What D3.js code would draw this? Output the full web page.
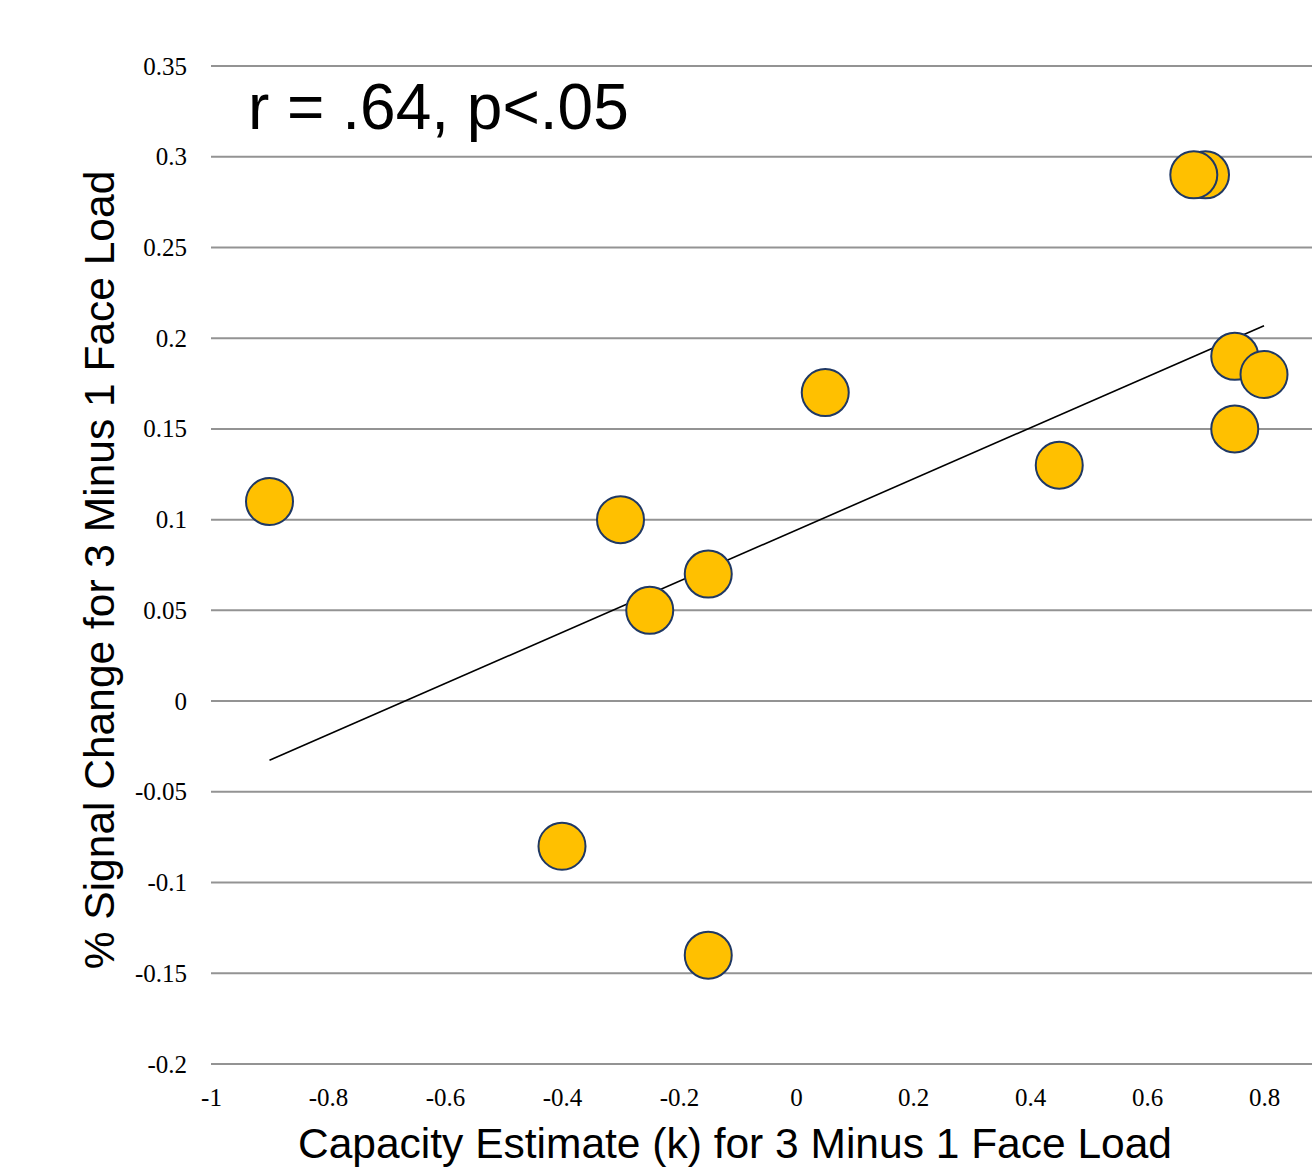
<!DOCTYPE html>
<html>
<head>
<meta charset="utf-8">
<script src="https://cdn.jsdelivr.net/npm/d3@7"></script>
<style>
  html, body { margin: 0; padding: 0; background: #fff; overflow: hidden; }
  svg { display: block; }
</style>
</head>
<body>
<svg id="chart" width="1312" height="1168"></svg>
<script>
// Capacity estimate (k) vs. % signal change, 3 minus 1 face load
const capacityK = [-0.9, -0.3, -0.25, -0.15, 0.05, 0.45, 0.7, 0.68, 0.75, 0.8, 0.75, -0.4, -0.15];
const signalChange = [0.11, 0.10, 0.05, 0.07, 0.17, 0.13, 0.29, 0.29, 0.19, 0.18, 0.15, -0.08, -0.14];
const xTicks = [-1, -0.8, -0.6, -0.4, -0.2, 0, 0.2, 0.4, 0.6, 0.8];
const yTicks = [-0.2, -0.15, -0.1, -0.05, 0, 0.05, 0.1, 0.15, 0.2, 0.25, 0.3, 0.35];
const statLabel = "r = .64, p<.05";
const xTitle = "Capacity Estimate (k) for 3 Minus 1 Face Load";
const yTitle = "% Signal Change for 3 Minus 1 Face Load";

const svg = d3.select("#chart");
const x = d3.scaleLinear().domain([-1, 1]).range([211, 1381]);
const y = d3.scaleLinear().domain([-0.2, 0.35]).range([1064, 66]);

// plain hyphen-minus number labels
const fmt = d => String(+d.toFixed(2));

// horizontal gridlines
svg.append("g").selectAll("line").data(yTicks).join("line")
  .attr("x1", x(-1)).attr("x2", x(1))
  .attr("y1", d => y(d)).attr("y2", d => y(d))
  .attr("stroke", "#939393").attr("stroke-width", 2);

// y axis tick labels
const yAxis = d3.axisLeft(y).tickValues(yTicks).tickSize(0).tickPadding(0).tickFormat(fmt);
svg.append("g").attr("transform", `translate(187,0)`).call(yAxis)
  .call(g => g.select(".domain").remove())
  .selectAll("text")
  .attr("font-family", "'Liberation Serif', 'Times New Roman', serif")
  .attr("font-size", 25).attr("fill", "#000");

// x axis tick labels
const xAxis = d3.axisBottom(x).tickValues(xTicks).tickSize(0).tickPadding(0).tickFormat(fmt);
svg.append("g").attr("transform", `translate(0,1088)`).call(xAxis)
  .call(g => g.select(".domain").remove())
  .selectAll("text")
  .attr("font-family", "'Liberation Serif', 'Times New Roman', serif")
  .attr("font-size", 25).attr("fill", "#000");

// least-squares trend line over the observed range
const n = capacityK.length;
const mx = d3.mean(capacityK), my = d3.mean(signalChange);
let sxy = 0, sxx = 0;
for (let i = 0; i < n; i++) {
  sxy += (capacityK[i] - mx) * (signalChange[i] - my);
  sxx += (capacityK[i] - mx) ** 2;
}
const slope = sxy / sxx, intercept = my - slope * mx;
const [xmin, xmax] = d3.extent(capacityK);
svg.append("line")
  .attr("x1", x(xmin)).attr("y1", y(intercept + slope * xmin))
  .attr("x2", x(xmax)).attr("y2", y(intercept + slope * xmax))
  .attr("stroke", "#000").attr("stroke-width", 1.6);

// data points
svg.append("g").selectAll("circle").data(capacityK.map((k, i) => [k, signalChange[i]])).join("circle")
  .attr("cx", d => x(d[0])).attr("cy", d => y(d[1])).attr("r", 23.5)
  .attr("fill", "#FFC000").attr("stroke", "#1F3864").attr("stroke-width", 2);

// correlation annotation
svg.append("text").attr("x", 248).attr("y", 129)
  .attr("font-family", "'Liberation Sans', Arial, sans-serif")
  .attr("font-size", 64).attr("fill", "#000").text(statLabel);

// axis titles
svg.append("text").attr("x", 735).attr("y", 1158).attr("text-anchor", "middle")
  .attr("font-family", "'Liberation Sans', Arial, sans-serif")
  .attr("font-size", 42.5).attr("fill", "#000").text(xTitle);

svg.append("text").attr("transform", "translate(114,570) rotate(-90)").attr("text-anchor", "middle")
  .attr("font-family", "'Liberation Sans', Arial, sans-serif")
  .attr("font-size", 42.5).attr("fill", "#000").text(yTitle);
</script>
</body>
</html>
